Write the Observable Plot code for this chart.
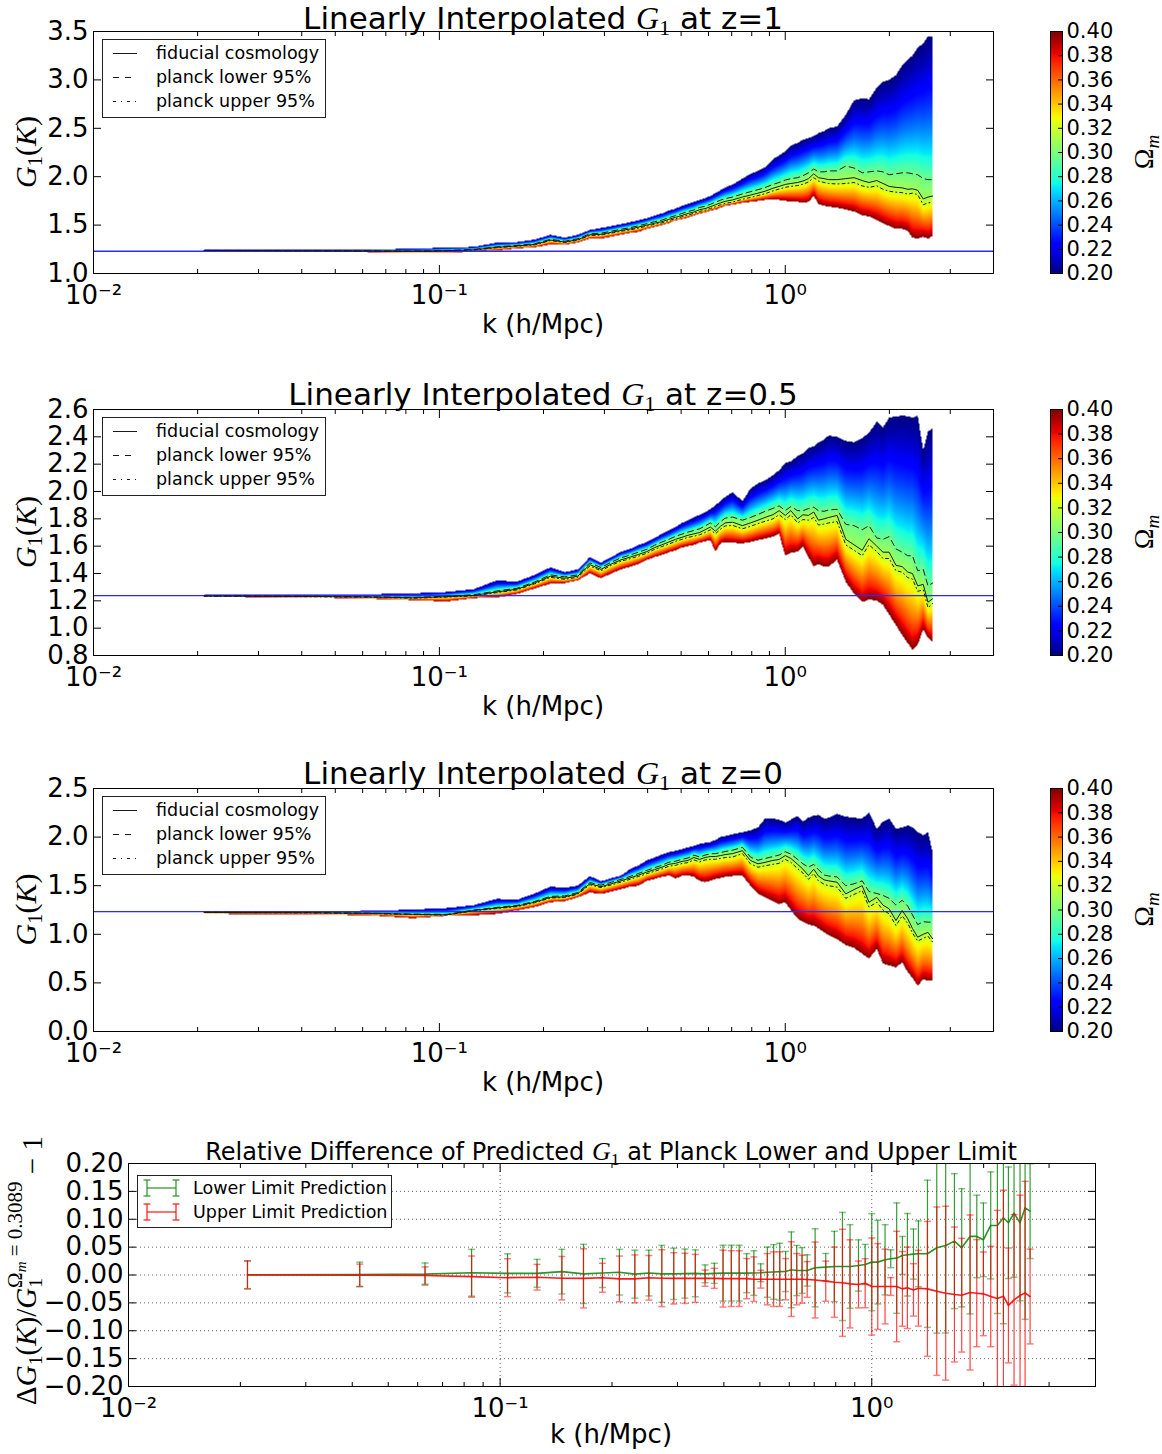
<!DOCTYPE html>
<html><head><meta charset="utf-8">
<script src="https://cdn.jsdelivr.net/npm/d3@7"></script>
<script src="https://cdn.jsdelivr.net/npm/@observablehq/plot@0.6"></script>
<style>
html,body{margin:0;padding:0;background:#fff;}
#root{position:relative;width:1162px;height:1454px;overflow:hidden;background:#fff;}
.pp{position:absolute;}
.pp svg{display:block;overflow:visible;}
#overlay{position:absolute;left:0;top:0;pointer-events:none;}
</style></head><body><div id="root"></div>
<script>
// ---------------- data ----------------
const K = [0.0209, 0.0419, 0.0628, 0.0838, 0.1047, 0.1257, 0.1466, 0.1676,
 0.1885, 0.2094, 0.2304, 0.2513, 0.2723, 0.2932, 0.3142, 0.3351,
 0.3560, 0.3770, 0.3979, 0.4189, 0.4398, 0.4608, 0.4817, 0.5027,
 0.5236, 0.5445, 0.5655, 0.5864, 0.6074, 0.6283, 0.6493, 0.6702,
 0.704, 0.752, 0.793, 0.834, 0.874, 0.921, 0.960, 1.000,
 1.038, 1.086, 1.125, 1.167, 1.209, 1.247, 1.295, 1.335,
 1.412, 1.496, 1.581, 1.669, 1.746, 1.839, 1.917, 1.997,
 2.090, 2.178, 2.261, 2.332, 2.415, 2.506, 2.586, 2.667];

const OMEGA_LEVELS = [0.20, 0.2965, 0.3089, 0.3213, 0.40]; // top, planck lower, fiducial, planck upper, bottom

// z = 1
const top1 = [1.244, 1.244, 1.247, 1.257, 1.268, 1.275, 1.32, 1.325,
 1.35, 1.40, 1.37, 1.40, 1.45, 1.47, 1.49, 1.51,
 1.53, 1.55, 1.57, 1.60, 1.62, 1.65, 1.67, 1.70,
 1.72, 1.74, 1.76, 1.78, 1.80, 1.83, 1.86, 1.89,
 1.92, 1.98, 2.03, 2.06, 2.10, 2.18, 2.22, 2.26,
 2.32, 2.35, 2.38, 2.40, 2.42, 2.45, 2.47, 2.50,
 2.52, 2.64, 2.79, 2.81, 2.80, 2.92, 2.98, 3.00,
 3.05, 3.15, 3.21, 3.25, 3.33, 3.38, 3.45, 3.45];
const lower1 = [1.239, 1.236, 1.234, 1.232, 1.238, 1.249, 1.276, 1.291,
 1.307, 1.353, 1.333, 1.359, 1.410, 1.416, 1.437, 1.457,
 1.473, 1.494, 1.515, 1.535, 1.551, 1.577, 1.598, 1.620,
 1.640, 1.656, 1.683, 1.694, 1.715, 1.736, 1.757, 1.773,
 1.790, 1.822, 1.845, 1.866, 1.888, 1.920, 1.940, 1.965,
 1.980, 1.990, 2.010, 2.040, 2.080, 2.050, 2.050, 2.060,
 2.060, 2.110, 2.090, 2.040, 2.050, 2.060, 2.050, 2.020,
 2.030, 2.040, 2.040, 2.030, 2.020, 1.980, 1.970, 1.970];
const fid1 = [1.238, 1.235, 1.232, 1.230, 1.235, 1.245, 1.270, 1.285,
 1.300, 1.345, 1.325, 1.350, 1.400, 1.405, 1.425, 1.445,
 1.460, 1.480, 1.500, 1.520, 1.535, 1.560, 1.580, 1.600,
 1.620, 1.635, 1.660, 1.670, 1.690, 1.710, 1.730, 1.745,
 1.760, 1.790, 1.810, 1.830, 1.850, 1.880, 1.900, 1.920,
 1.930, 1.940, 1.955, 1.980, 2.030, 1.990, 1.980, 1.970,
 1.970, 1.980, 1.990, 1.960, 1.940, 1.960, 1.930, 1.900,
 1.890, 1.885, 1.870, 1.875, 1.860, 1.770, 1.790, 1.800];
const upper1 = [1.237, 1.234, 1.231, 1.228, 1.233, 1.242, 1.266, 1.281,
 1.295, 1.340, 1.320, 1.344, 1.393, 1.397, 1.417, 1.436,
 1.450, 1.470, 1.489, 1.508, 1.523, 1.547, 1.566, 1.586,
 1.605, 1.620, 1.643, 1.653, 1.672, 1.690, 1.710, 1.724,
 1.738, 1.767, 1.786, 1.805, 1.824, 1.853, 1.872, 1.890,
 1.900, 1.908, 1.922, 1.945, 1.990, 1.955, 1.940, 1.930,
 1.925, 1.930, 1.940, 1.905, 1.890, 1.905, 1.870, 1.850,
 1.840, 1.835, 1.820, 1.830, 1.815, 1.710, 1.730, 1.735];
const bottom1 = [1.235, 1.226, 1.222, 1.213, 1.213, 1.228, 1.236, 1.260,
 1.270, 1.300, 1.295, 1.320, 1.360, 1.360, 1.380, 1.400,
 1.420, 1.430, 1.460, 1.480, 1.500, 1.520, 1.550, 1.560,
 1.580, 1.600, 1.620, 1.630, 1.650, 1.660, 1.680, 1.700,
 1.710, 1.730, 1.740, 1.750, 1.760, 1.765, 1.760, 1.750,
 1.745, 1.740, 1.730, 1.740, 1.800, 1.720, 1.700, 1.690,
 1.680, 1.660, 1.640, 1.600, 1.590, 1.550, 1.520, 1.490,
 1.460, 1.460, 1.440, 1.370, 1.360, 1.380, 1.360, 1.390];

// z = 0.5
const top2 = [1.244, 1.245, 1.248, 1.255, 1.265, 1.285, 1.350, 1.340,
 1.390, 1.445, 1.410, 1.430, 1.520, 1.480, 1.520, 1.560,
 1.580, 1.610, 1.630, 1.660, 1.690, 1.715, 1.740, 1.770,
 1.790, 1.810, 1.830, 1.850, 1.870, 1.900, 1.930, 1.960,
 1.995, 1.930, 2.020, 2.060, 2.080, 2.120, 2.155, 2.210,
 2.220, 2.260, 2.280, 2.320, 2.330, 2.360, 2.380, 2.410,
 2.400, 2.370, 2.360, 2.390, 2.430, 2.510, 2.470, 2.540,
 2.550, 2.555, 2.550, 2.540, 2.555, 2.300, 2.440, 2.460];
const lower2 = [1.236, 1.234, 1.230, 1.225, 1.233, 1.245, 1.272, 1.292,
 1.338, 1.390, 1.375, 1.390, 1.478, 1.443, 1.483, 1.515,
 1.535, 1.557, 1.577, 1.607, 1.630, 1.650, 1.672, 1.688,
 1.703, 1.715, 1.727, 1.748, 1.770, 1.742, 1.778, 1.805,
 1.813, 1.790, 1.810, 1.832, 1.855, 1.876, 1.895, 1.860,
 1.890, 1.860, 1.860, 1.875, 1.885, 1.860, 1.855, 1.865,
 1.870, 1.760, 1.750, 1.720, 1.750, 1.660, 1.650, 1.670,
 1.580, 1.556, 1.530, 1.530, 1.420, 1.430, 1.310, 1.330];
const fid2 = [1.235, 1.232, 1.228, 1.222, 1.230, 1.240, 1.265, 1.285,
 1.330, 1.380, 1.365, 1.380, 1.465, 1.430, 1.470, 1.500,
 1.520, 1.540, 1.560, 1.590, 1.610, 1.630, 1.650, 1.665,
 1.680, 1.690, 1.700, 1.720, 1.740, 1.710, 1.745, 1.770,
 1.776, 1.750, 1.770, 1.790, 1.810, 1.830, 1.860, 1.825,
 1.860, 1.800, 1.830, 1.825, 1.850, 1.790, 1.800, 1.810,
 1.825, 1.650, 1.610, 1.570, 1.655, 1.600, 1.556, 1.556,
 1.460, 1.450, 1.410, 1.400, 1.310, 1.320, 1.190, 1.215];
const upper2 = [1.234, 1.230, 1.226, 1.219, 1.227, 1.236, 1.260, 1.280,
 1.324, 1.372, 1.357, 1.372, 1.455, 1.420, 1.460, 1.490,
 1.508, 1.528, 1.548, 1.577, 1.597, 1.615, 1.635, 1.650,
 1.664, 1.673, 1.683, 1.700, 1.720, 1.690, 1.724, 1.748,
 1.752, 1.727, 1.745, 1.765, 1.782, 1.800, 1.830, 1.795,
 1.830, 1.770, 1.795, 1.790, 1.810, 1.755, 1.762, 1.770,
 1.780, 1.610, 1.570, 1.530, 1.610, 1.560, 1.510, 1.510,
 1.420, 1.410, 1.370, 1.360, 1.270, 1.280, 1.150, 1.180];
const bottom2 = [1.230, 1.225, 1.215, 1.205, 1.195, 1.220, 1.225, 1.250,
 1.290, 1.325, 1.330, 1.350, 1.400, 1.365, 1.400, 1.430,
 1.450, 1.470, 1.500, 1.520, 1.535, 1.555, 1.570, 1.590,
 1.600, 1.610, 1.625, 1.635, 1.645, 1.560, 1.620, 1.630,
 1.625, 1.620, 1.630, 1.645, 1.655, 1.670, 1.690, 1.530,
 1.550, 1.560, 1.600, 1.520, 1.450, 1.470, 1.450, 1.450,
 1.500, 1.340, 1.250, 1.190, 1.210, 1.200, 1.170, 1.100,
 1.020, 0.950, 0.890, 0.840, 0.880, 0.990, 0.930, 0.900];

// z = 0
const top3 = [1.237, 1.238, 1.240, 1.255, 1.270, 1.300, 1.365, 1.355,
 1.420, 1.490, 1.480, 1.500, 1.600, 1.545, 1.580, 1.605,
 1.670, 1.710, 1.760, 1.790, 1.820, 1.845, 1.860, 1.875,
 1.895, 1.910, 1.930, 1.940, 1.950, 1.970, 2.000, 2.010,
 2.030, 2.050, 2.070, 2.100, 2.190, 2.190, 2.180, 2.150,
 2.180, 2.220, 2.160, 2.200, 2.220, 2.230, 2.190, 2.200,
 2.240, 2.210, 2.200, 2.190, 2.255, 2.085, 2.160, 2.190,
 2.085, 2.100, 2.120, 2.100, 2.050, 2.020, 2.050, 1.845];
const lower3 = [1.226, 1.224, 1.218, 1.208, 1.205, 1.250, 1.277, 1.297,
 1.338, 1.390, 1.395, 1.430, 1.532, 1.505, 1.535, 1.565,
 1.595, 1.627, 1.658, 1.685, 1.710, 1.742, 1.752, 1.772,
 1.785, 1.815, 1.795, 1.815, 1.828, 1.830, 1.840, 1.852,
 1.865, 1.895, 1.795, 1.762, 1.780, 1.800, 1.815, 1.850,
 1.825, 1.770, 1.725, 1.690, 1.720, 1.665, 1.610, 1.600,
 1.590, 1.500, 1.520, 1.550, 1.440, 1.420, 1.400, 1.370,
 1.300, 1.350, 1.290, 1.200, 1.100, 1.130, 1.125, 1.125];
const fid3 = [1.225, 1.222, 1.215, 1.205, 1.200, 1.245, 1.270, 1.290,
 1.330, 1.380, 1.385, 1.420, 1.520, 1.490, 1.520, 1.550,
 1.580, 1.610, 1.640, 1.665, 1.690, 1.720, 1.730, 1.750,
 1.760, 1.790, 1.770, 1.790, 1.800, 1.800, 1.810, 1.820,
 1.830, 1.860, 1.760, 1.725, 1.740, 1.760, 1.770, 1.810,
 1.780, 1.720, 1.670, 1.605, 1.670, 1.600, 1.560, 1.550,
 1.536, 1.416, 1.460, 1.500, 1.330, 1.380, 1.300, 1.262,
 1.142, 1.245, 1.159, 1.060, 0.971, 1.000, 1.020, 0.954];
const upper3 = [1.224, 1.220, 1.213, 1.203, 1.197, 1.241, 1.265, 1.284,
 1.324, 1.373, 1.378, 1.412, 1.510, 1.480, 1.508, 1.537,
 1.566, 1.595, 1.624, 1.648, 1.672, 1.700, 1.710, 1.728,
 1.738, 1.765, 1.745, 1.765, 1.772, 1.772, 1.780, 1.790,
 1.795, 1.830, 1.725, 1.690, 1.705, 1.720, 1.730, 1.770,
 1.740, 1.675, 1.630, 1.565, 1.625, 1.550, 1.515, 1.500,
 1.485, 1.370, 1.410, 1.450, 1.280, 1.330, 1.250, 1.210,
 1.090, 1.190, 1.110, 1.015, 0.930, 0.960, 0.980, 0.920];
const bottom3 = [1.210, 1.205, 1.195, 1.165, 1.190, 1.195, 1.210, 1.245,
 1.280, 1.330, 1.340, 1.380, 1.430, 1.415, 1.440, 1.465,
 1.490, 1.500, 1.550, 1.570, 1.590, 1.605, 1.575, 1.600,
 1.605, 1.590, 1.550, 1.536, 1.550, 1.570, 1.580, 1.590,
 1.600, 1.605, 1.500, 1.420, 1.380, 1.340, 1.310, 1.330,
 1.250, 1.160, 1.130, 1.100, 1.090, 1.060, 1.020, 0.990,
 0.950, 0.890, 0.860, 0.800, 0.750, 0.850, 0.700, 0.680,
 0.660, 0.710, 0.610, 0.550, 0.470, 0.540, 0.520, 0.525];

const hline = [1.230, 1.238, 1.234];

// relative difference (bottom panel)
const lowerRel = [0.0005, 0.001, 0.0015, 0.004, 0.003, 0.003, 0.006, 0.002,
 0.0035, 0.005, 0.0015, 0.0035, 0.0021, 0.0021, 0.0025, 0.003,
 0.0021, 0.003, 0.0033, 0.0033, 0.0033, 0.0033, 0.0035, 0.004,
 0.005, 0.0055, 0.006, 0.0063, 0.0093, 0.0081, 0.0081, 0.0081,
 0.0129, 0.0141, 0.0153, 0.0153, 0.0153, 0.0171, 0.0189, 0.0231,
 0.0231, 0.0273, 0.0291, 0.0303, 0.0351, 0.0363, 0.0375, 0.0381,
 0.0381, 0.0488, 0.053, 0.0608, 0.0488, 0.0692, 0.0692, 0.0632,
 0.0889, 0.0889, 0.1026, 0.0937, 0.111, 0.0937, 0.1205, 0.1145];
const lowerErr = [0.025, 0.022, 0.020, 0.042, 0.035, 0.025, 0.040, 0.053,
 0.026, 0.041, 0.043, 0.041, 0.051, 0.046, 0.044, 0.042,
 0.016, 0.018, 0.050, 0.050, 0.050, 0.035, 0.040, 0.016,
 0.045, 0.049, 0.051, 0.036, 0.068, 0.045, 0.041, 0.028,
 0.070, 0.0245, 0.063, 0.097, 0.075, 0.046, 0.036, 0.087,
 0.075, 0.063, 0.016, 0.099, 0.034, 0.074, 0.045, 0.059,
 0.132, 0.153, 0.157, 0.121, 0.106, 0.139, 0.074, 0.066,
 0.096, 0.158, 0.190, 0.100, 0.115, 0.140, 0.200, 0.085];
const upperRel = [0, -0.0005, -0.001, -0.003, -0.0048, -0.004, -0.0057, -0.006,
 -0.005, -0.007, -0.007, -0.005, -0.0057, -0.006, -0.006, -0.006,
 -0.0057, -0.006, -0.0065, -0.0065, -0.0065, -0.0065, -0.0075, -0.0075,
 -0.0075, -0.0075, -0.0075, -0.0075, -0.0075, -0.0075, -0.0075, -0.008,
 -0.009, -0.011, -0.0129, -0.014, -0.0159, -0.017, -0.0147, -0.0207,
 -0.0207, -0.0207, -0.0207, -0.0207, -0.0249, -0.023, -0.0267, -0.0237,
 -0.0249, -0.029, -0.0326, -0.035, -0.0362, -0.0314, -0.0326, -0.0338,
 -0.0386, -0.0421, -0.038, -0.0546, -0.0445, -0.0368, -0.032, -0.0386];
const upperErr = [0.025, 0.020, 0.0155, 0.037, 0.034, 0.023, 0.039, 0.053,
 0.026, 0.041, 0.043, 0.040, 0.051, 0.046, 0.045, 0.043,
 0.0145, 0.018, 0.051, 0.050, 0.050, 0.036, 0.040, 0.016,
 0.046, 0.049, 0.049, 0.037, 0.067, 0.046, 0.043, 0.032,
 0.068, 0.036, 0.063, 0.096, 0.079, 0.042, 0.044, 0.087,
 0.077, 0.067, 0.016, 0.099, 0.067, 0.073, 0.047, 0.068,
 0.121, 0.151, 0.156, 0.121, 0.102, 0.139, 0.096, 0.075,
 0.090, 0.158, 0.190, 0.103, 0.153, 0.180, 0.200, 0.085];

// ticks
const xMajor = [0.01, 0.1, 1];
const xMinor = [0.02, 0.03, 0.04, 0.05, 0.06, 0.07, 0.08, 0.09, 0.2, 0.3, 0.4, 0.5, 0.6, 0.7, 0.8, 0.9, 2, 3];
const yTicks1 = [1.0, 1.5, 2.0, 2.5, 3.0, 3.5];
const yTicks2 = [0.8, 1.0, 1.2, 1.4, 1.6, 1.8, 2.0, 2.2, 2.4, 2.6];
const yTicks3 = [0.0, 0.5, 1.0, 1.5, 2.0, 2.5];
const cbTicks = [0.20, 0.22, 0.24, 0.26, 0.28, 0.30, 0.32, 0.34, 0.36, 0.38, 0.40];
const relTicks = [-0.20, -0.15, -0.10, -0.05, 0.00, 0.05, 0.10, 0.15, 0.20];
const legendLabels = ["fiducial cosmology", "planck lower 95%", "planck upper 95%"];
const relLegend = ["Lower Limit Prediction", "Upper Limit Prediction"];

// ---------------- helpers ----------------
function interp(pts, t) {
  for (let i = 0; i < pts.length - 1; i++) {
    const [a, va] = pts[i], [b, vb] = pts[i + 1];
    if (t <= b) return va + (vb - va) * (t - a) / (b - a);
  }
  return pts[pts.length - 1][1];
}
function jet(t) {
  t = Math.max(0, Math.min(1, t));
  const r = interp([[0,0],[0.35,0],[0.66,1],[0.89,1],[1,0.5]], t);
  const g = interp([[0,0],[0.125,0],[0.375,1],[0.64,1],[0.91,0],[1,0]], t);
  const b = interp([[0,0.5],[0.11,1],[0.34,1],[0.65,0],[1,0]], t);
  return `rgb(${Math.round(r*255)},${Math.round(g*255)},${Math.round(b*255)})`;
}
const colorOpts = {type: "linear", domain: [0.2, 0.4], interpolate: jet};

function omegaField(levels) {
  const lk = K.map(Math.log10);
  const n = K.length;
  return (x, y) => {
    const lx = Math.log10(x);
    if (!(lx >= lk[0] && lx <= lk[n - 1])) return NaN;
    let i = d3.bisectRight(lk, lx) - 1;
    i = Math.max(0, Math.min(n - 2, i));
    const t = (lx - lk[i]) / (lk[i + 1] - lk[i]);
    const v = levels.map(L => L[i] + t * (L[i + 1] - L[i]));
    if (y > v[0] || y < v[4]) return NaN;
    for (let j = 0; j < 4; j++) {
      if (y <= v[j] && y >= v[j + 1]) {
        const d = Math.log(v[j] / v[j + 1]);
        const f = d > 0 ? Math.log(v[j] / y) / d : 0;
        return Math.exp(Math.log(OMEGA_LEVELS[j]) + f * Math.log(OMEGA_LEVELS[j + 1] / OMEGA_LEVELS[j]));
      }
    }
    return NaN;
  };
}
const SUP = {"-": "\u207B", "0": "\u2070", "1": "\u00B9", "2": "\u00B2", "3": "\u00B3"};
const powFmt = d => "10" + String(Math.round(Math.log10(d))).split("").map(c => SUP[c]).join("");
const blank = () => "";

const FONT = "DejaVu Sans, Verdana, sans-serif";
const SERIF = "Liberation Serif, Times New Roman, serif";
const root = document.getElementById("root");
function place(el, left, top) {
  const d = document.createElement("div");
  d.className = "pp"; d.style.left = left + "px"; d.style.top = top + "px";
  d.appendChild(el); root.appendChild(d);
}
function xAxes() {
  return [
    Plot.axisX(xMajor, {anchor: "bottom", tickSize: -8, tickPadding: 20, tickFormat: powFmt, label: null}),
    Plot.axisX(xMinor, {anchor: "bottom", tickSize: -4, tickPadding: 0, tickFormat: blank, label: null}),
    Plot.axisX(xMajor, {anchor: "top", tickSize: -8, tickPadding: 0, tickFormat: blank, label: null}),
    Plot.axisX(xMinor, {anchor: "top", tickSize: -4, tickPadding: 0, tickFormat: blank, label: null})
  ];
}

// ---------------- panels ----------------
const PANELS = [
  {z: "1", T: 31, B: 273, domain: [1.0, 3.5], ticks: yTicks1, fmt: ".1f", h: hline[0], tb: 29, levels: [top1, lower1, fid1, upper1, bottom1]},
  {z: "0.5", T: 409, B: 655, domain: [0.8, 2.6], ticks: yTicks2, fmt: ".1f", h: hline[1], tb: 405, levels: [top2, lower2, fid2, upper2, bottom2]},
  {z: "0", T: 788, B: 1031, domain: [0.0, 2.5], ticks: yTicks3, fmt: ".1f", h: hline[2], tb: 784, levels: [top3, lower3, fid3, upper3, bottom3]}
];
const MT = 10, MB = 45;
const XDOM = [0.01, 4];

PANELS.forEach(p => {
  const rows = K.map((k, i) => ({k, lower: p.levels[1][i], fid: p.levels[2][i], upper: p.levels[3][i]}));
  const chart = Plot.plot({
    width: 1000, height: p.B - p.T + MT + MB,
    marginLeft: 93, marginRight: 7, marginTop: MT, marginBottom: MB,
    x: {type: "log", domain: XDOM},
    y: {domain: p.domain},
    color: colorOpts,
    style: {fontFamily: FONT, fontSize: "26px", color: "black", background: "transparent", overflow: "visible"},
    marks: [
      Plot.raster({fill: omegaField(p.levels), x1: XDOM[0], x2: XDOM[1], y1: p.domain[0], y2: p.domain[1], pixelSize: 1}),
      Plot.ruleY([p.h], {stroke: "#2b2bff", strokeWidth: 1.3}),
      Plot.line(rows, {x: "k", y: "lower", stroke: "#1a1a1a", strokeWidth: 1, strokeDasharray: "6,4"}),
      Plot.line(rows, {x: "k", y: "fid", stroke: "#1a1a1a", strokeWidth: 1}),
      Plot.line(rows, {x: "k", y: "upper", stroke: "#1a1a1a", strokeWidth: 1, strokeDasharray: "3,3,1,3"}),
      Plot.frame({stroke: "black"}),
      Plot.axisY(p.ticks, {anchor: "left", tickSize: -8, tickPadding: 13, tickFormat: d3.format(p.fmt), label: null}),
      Plot.axisY(p.ticks, {anchor: "right", tickSize: -8, tickPadding: 0, tickFormat: blank, label: null}),
      ...xAxes()
    ]
  });
  place(chart, 0, p.T - MT);

  const cb = Plot.plot({
    width: 112, height: p.B - p.T + MT + MB,
    marginLeft: 10, marginRight: 90, marginTop: MT, marginBottom: MB,
    x: {domain: [0, 1], axis: null},
    y: {domain: [0.2, 0.4]},
    color: colorOpts,
    style: {fontFamily: FONT, fontSize: "21px", color: "black", background: "transparent", overflow: "visible"},
    marks: [
      Plot.raster({fill: (x, y) => y, x1: 0, x2: 1, y1: 0.2, y2: 0.4, pixelSize: 1}),
      Plot.frame({stroke: "black"}),
      Plot.axisY(cbTicks, {anchor: "right", tickSize: -5, tickPadding: 9, tickFormat: d3.format(".2f"), label: null})
    ]
  });
  place(cb, 1040, p.T - MT);
});

// ---------------- bottom panel ----------------
const BT = 1163, BB = 1386;
const GREEN = "#118a11", RED = "#ff0000";
const rowsB = K.map((k, i) => ({k, g: lowerRel[i], ge: lowerErr[i], r: upperRel[i], re: upperErr[i]}));
const capSym = {draw(ctx, size) { const w = Math.sqrt(size / Math.PI); ctx.moveTo(-w, 0); ctx.lineTo(w, 0); }};
function errMarks(key, ekey, color, op) {
  return [
    Plot.ruleX(rowsB, {x: "k", y1: d => d[key] - d[ekey], y2: d => d[key] + d[ekey], stroke: color, strokeOpacity: op, strokeWidth: 1.2, clip: true}),
    Plot.dot(rowsB, {x: "k", y: d => d[key] + d[ekey], symbol: capSym, r: 3.5, fill: "none", stroke: color, strokeOpacity: 0.5, strokeWidth: 1.5, clip: true}),
    Plot.dot(rowsB, {x: "k", y: d => d[key] - d[ekey], symbol: capSym, r: 3.5, fill: "none", stroke: color, strokeOpacity: 0.5, strokeWidth: 1.5, clip: true}),
    Plot.line(rowsB, {x: "k", y: key, stroke: color, strokeOpacity: 0.9, strokeWidth: 1.6, clip: true})
  ];
}
const bottomChart = Plot.plot({
  width: 1115, height: BB - BT + MT + MB,
  marginLeft: 128, marginRight: 20, marginTop: MT, marginBottom: MB,
  x: {type: "log", domain: XDOM},
  y: {domain: [-0.2, 0.2]},
  style: {fontFamily: FONT, fontSize: "26px", color: "black", background: "transparent", overflow: "visible"},
  marks: [
    Plot.gridY(relTicks, {stroke: "#000", strokeOpacity: 0.6, strokeDasharray: "1,3", strokeWidth: 1}),
    Plot.gridX(xMajor, {stroke: "#000", strokeOpacity: 0.6, strokeDasharray: "1,3", strokeWidth: 1}),
    ...errMarks("g", "ge", GREEN, 0.85),
    ...errMarks("r", "re", RED, 0.75),
    Plot.frame({stroke: "black"}),
    Plot.axisY(relTicks, {anchor: "left", tickSize: -8, tickPadding: 13, tickFormat: d3.format(".2f"), label: null}),
    Plot.axisY(relTicks, {anchor: "right", tickSize: -8, tickPadding: 0, tickFormat: blank, label: null}),
    ...xAxes()
  ]
});
place(bottomChart, 0, BT - MT);

// ---------------- overlay texts & legends ----------------
const svg = d3.select(root).append("svg").attr("id", "overlay").attr("width", 1162).attr("height", 1454);

function mathG(t, size) {
  t.append("tspan").attr("font-family", SERIF).attr("font-style", "italic").attr("font-size", size).text("G");
  t.append("tspan").attr("font-family", SERIF).attr("font-size", size * 0.68).attr("dy", size * 0.2).text("1");
}
PANELS.forEach(p => {
  const cy = (p.T + p.B) / 2;
  const t = svg.append("text").attr("x", 543).attr("y", p.tb).attr("text-anchor", "middle")
    .attr("font-family", FONT).attr("font-size", 31).attr("fill", "black");
  t.append("tspan").text("Linearly Interpolated ");
  mathG(t, 32);
  t.append("tspan").attr("dy", -32 * 0.2).text(" at z=" + p.z);
  svg.append("text").attr("x", 543).attr("y", p.B + 60).attr("text-anchor", "middle")
    .attr("font-family", FONT).attr("font-size", 26).text("k (h/Mpc)");
  const yl = svg.append("text").attr("transform", `translate(36,${cy}) rotate(-90)`).attr("text-anchor", "middle")
    .attr("font-family", SERIF).attr("font-size", 30);
  mathG(yl, 30);
  yl.append("tspan").attr("dy", -6).text("(");
  yl.append("tspan").attr("font-style", "italic").text("K");
  yl.append("tspan").text(")");
  const cl = svg.append("text").attr("transform", `translate(1153,${cy}) rotate(-90)`).attr("text-anchor", "middle")
    .attr("font-family", SERIF).attr("font-size", 28);
  cl.append("tspan").text("\u03A9");
  cl.append("tspan").attr("font-style", "italic").attr("font-size", 19).attr("dy", 6).text("m");
  const lg = svg.append("g");
  lg.append("rect").attr("x", 102.5).attr("y", p.T + 8.5).attr("width", 223).attr("height", 78)
    .attr("fill", "white").attr("stroke", "#222").attr("stroke-width", 1);
  const dashes = [null, "6,6", "3,5,1,5"];
  legendLabels.forEach((lab, i) => {
    const y = p.T + 22 + i * 24;
    lg.append("line").attr("x1", 113).attr("x2", 137).attr("y1", y + 0.5).attr("y2", y + 0.5)
      .attr("stroke", "#1a1a1a").attr("stroke-width", 1).attr("stroke-dasharray", dashes[i]);
    lg.append("text").attr("x", 156).attr("y", y + 6).attr("font-family", FONT).attr("font-size", 17.5).text(lab);
  });
});

{
  const t = svg.append("text").attr("x", 611).attr("y", BT - 3).attr("text-anchor", "middle")
    .attr("font-family", FONT).attr("font-size", 24);
  t.append("tspan").text("Relative Difference of Predicted ");
  mathG(t, 26);
  t.append("tspan").attr("dy", -26 * 0.2).text(" at Planck Lower and Upper Limit");
  svg.append("text").attr("x", 611).attr("y", BB + 57).attr("text-anchor", "middle")
    .attr("font-family", FONT).attr("font-size", 26).text("k (h/Mpc)");
  const yl = svg.append("text").attr("transform", `translate(36,${(BT + BB) / 2 - 4}) rotate(-90)`).attr("text-anchor", "middle")
    .attr("font-family", SERIF).attr("font-size", 29);
  yl.append("tspan").text("\u0394");
  mathG(yl, 29);
  yl.append("tspan").attr("dy", -5.8).text("(");
  yl.append("tspan").attr("font-style", "italic").text("K");
  yl.append("tspan").text(")/");
  mathG(yl, 29);
  yl.append("tspan").attr("font-size", 21).attr("dx", -10).attr("dy", -20).text("\u03A9");
  yl.append("tspan").attr("font-size", 15).attr("font-style", "italic").attr("dy", 4).text("m");
  yl.append("tspan").attr("font-size", 21).attr("dy", -4).text(" = 0.3089");
  yl.append("tspan").attr("dy", 19.8).text("  \u2212  1");

  const lg = svg.append("g");
  lg.append("rect").attr("x", 137.5).attr("y", 1175.5).attr("width", 254).attr("height", 52)
    .attr("fill", "white").attr("stroke", "#222").attr("stroke-width", 1);
  [GREEN, RED].forEach((c, i) => {
    const y = 1188 + i * 24;
    const g = lg.append("g").attr("stroke", c).attr("stroke-width", 1.3).attr("stroke-opacity", 0.85);
    g.append("line").attr("x1", 147).attr("x2", 176).attr("y1", y).attr("y2", y);
    [147, 176].forEach(x => {
      g.append("line").attr("x1", x).attr("x2", x).attr("y1", y - 8).attr("y2", y + 8);
      g.append("line").attr("x1", x - 3.5).attr("x2", x + 3.5).attr("y1", y - 8).attr("y2", y - 8);
      g.append("line").attr("x1", x - 3.5).attr("x2", x + 3.5).attr("y1", y + 8).attr("y2", y + 8);
    });
    lg.append("text").attr("x", 193).attr("y", y + 6).attr("font-family", FONT).attr("font-size", 17.5).text(relLegend[i]);
  });
}
</script></body></html>
